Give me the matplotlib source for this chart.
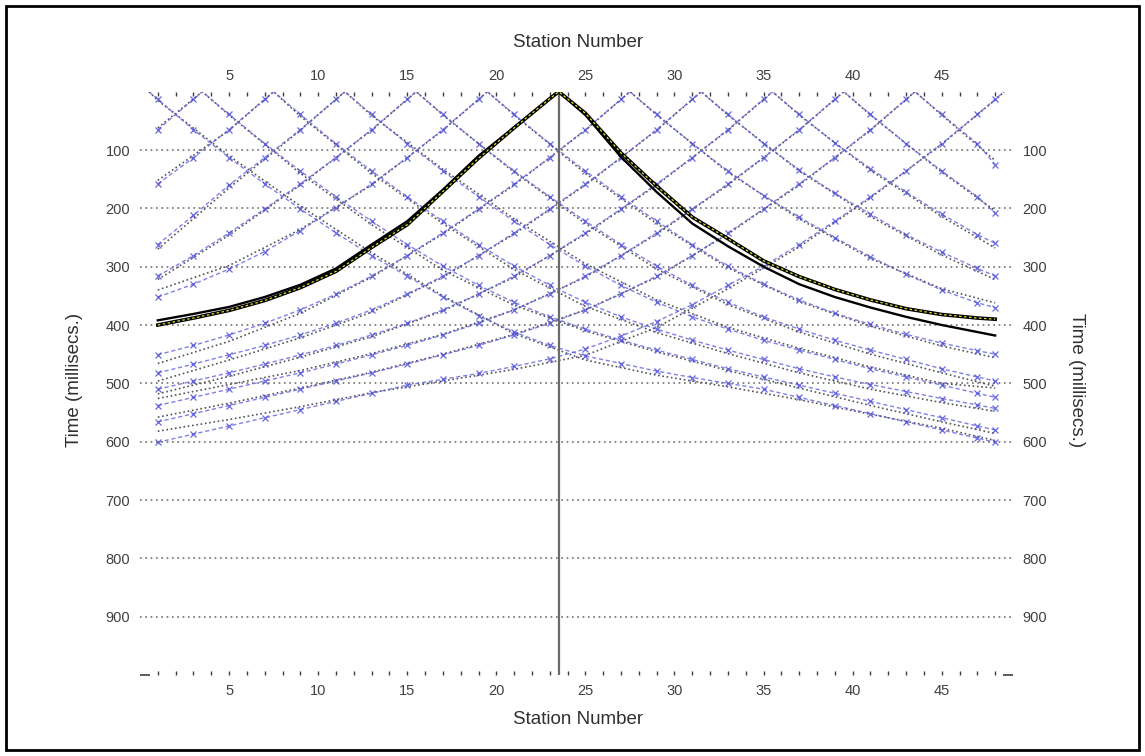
import matplotlib.pyplot as plt
from matplotlib.patches import Rectangle

plt.rcParams['font.family'] = ['Liberation Sans', 'DejaVu Sans']

# geophone stations that carry a first-break pick / a modelled time
pick_stations = [1, 3, 5, 7, 9, 11, 13, 15, 17, 19, 21, 23, 25,
                 27, 29, 31, 33, 35, 37, 39, 41, 43, 45, 47, 48]
model_stations = [1, 5, 9, 13, 17, 21, 25, 29, 33, 37, 41, 45, 48]

# shot positions (station units)
shot_points = [0.5, 3.5, 7.5, 11.5, 15.5, 19.5, 23.5, 27.5, 31.5, 35.5, 39.5, 43.5, 48.5]
active_shot = 23.5

# picked first arrivals, ms
picks_sp01 = [13, 65, 113, 158, 201, 242, 281, 316, 352, 384, 412, 435, 453, 466, 479, 490, 500, 510, 524, 538, 552, 566, 580, 594, 601]
picks_sp02 = [65, 13, 39, 89, 136, 180, 222, 262, 299, 332, 361, 386, 407, 426, 443, 459, 475, 489, 503, 517, 531, 545, 559, 573, 580]
picks_sp03 = [158, 113, 65, 13, 39, 89, 136, 180, 222, 262, 299, 332, 361, 386, 407, 426, 443, 459, 475, 489, 502, 514, 526, 537, 543]
picks_sp04 = [262, 212, 160, 113, 65, 13, 39, 89, 136, 180, 222, 262, 299, 332, 361, 386, 407, 426, 443, 459, 475, 489, 503, 517, 524]
picks_sp05 = [316, 281, 242, 201, 158, 113, 65, 13, 39, 89, 136, 180, 222, 262, 299, 332, 361, 386, 407, 426, 443, 459, 475, 489, 496]
picks_sp06 = [352, 330, 304, 274, 238, 199, 158, 113, 65, 13, 39, 89, 136, 180, 222, 262, 299, 330, 357, 380, 399, 416, 431, 444, 450]
picks_sp07 = [400, 388, 375, 358, 336, 308, 267, 228, 171, 114, 62, 12, 37, 105, 162, 215, 252, 290, 317, 339, 357, 372, 382, 388, 390]
picks_sp08 = [451, 435, 417, 397, 374, 347, 316, 281, 242, 201, 158, 113, 65, 13, 39, 89, 136, 178, 215, 250, 283, 313, 340, 362, 370]
picks_sp09 = [482, 467, 451, 435, 417, 397, 374, 347, 316, 281, 242, 201, 158, 113, 65, 13, 39, 89, 134, 174, 210, 245, 275, 303, 316]
picks_sp10 = [510, 496, 482, 467, 451, 435, 417, 397, 374, 347, 316, 281, 242, 201, 158, 113, 65, 13, 39, 88, 132, 172, 210, 245, 260]
picks_sp11 = [538, 524, 510, 496, 482, 467, 451, 435, 417, 397, 374, 347, 316, 281, 242, 201, 158, 113, 65, 13, 39, 89, 136, 180, 208]
picks_sp12 = [566, 552, 538, 524, 510, 496, 482, 467, 451, 435, 417, 397, 374, 347, 316, 281, 242, 201, 158, 113, 65, 13, 39, 89, 125]
picks_sp13 = [601, 587, 573, 559, 545, 531, 517, 503, 493, 483, 471, 458, 441, 419, 394, 365, 332, 299, 262, 222, 180, 136, 89, 39, 13]

# modelled travel times, ms (the active shot is modelled at every pick station)
model_sp01 = [15, 110, 196, 276, 350, 415, 460, 486, 506, 528, 553, 577, 598]
model_sp02 = [62, 40, 140, 228, 306, 366, 410, 446, 478, 508, 538, 566, 586]
model_sp03 = [152, 66, 42, 140, 226, 305, 368, 413, 449, 482, 510, 533, 548]
model_sp04 = [270, 165, 66, 41, 133, 218, 295, 357, 404, 440, 472, 500, 508]
model_sp05 = [322, 246, 160, 66, 40, 138, 226, 304, 365, 412, 450, 482, 505]
model_sp06 = [340, 298, 236, 160, 66, 40, 140, 226, 302, 360, 402, 436, 456]
model_sp07 = [392, 381, 369, 352, 331, 303, 262, 222, 168, 110, 61, 12, 40, 112, 172, 226, 265, 300, 330, 352, 370, 386, 400, 412, 418]
model_sp08 = [466, 428, 380, 318, 244, 160, 66, 40, 138, 218, 286, 338, 362]
model_sp09 = [496, 460, 422, 378, 318, 244, 160, 66, 40, 136, 214, 280, 322]
model_sp10 = [518, 488, 455, 420, 376, 318, 244, 160, 66, 40, 135, 214, 268]
model_sp11 = [526, 502, 478, 449, 416, 374, 318, 244, 160, 66, 40, 138, 204]
model_sp12 = [558, 534, 508, 481, 450, 416, 374, 318, 244, 160, 66, 40, 118]
model_sp13 = [582, 562, 540, 516, 496, 476, 452, 404, 338, 266, 182, 90, 14]

picks = [picks_sp01, picks_sp02, picks_sp03, picks_sp04, picks_sp05, picks_sp06, picks_sp07,
         picks_sp08, picks_sp09, picks_sp10, picks_sp11, picks_sp12, picks_sp13]
models = [model_sp01, model_sp02, model_sp03, model_sp04, model_sp05, model_sp06, model_sp07,
          model_sp08, model_sp09, model_sp10, model_sp11, model_sp12, model_sp13]

time_ticks = [100, 200, 300, 400, 500, 600, 700, 800, 900]
station_ticks = [5, 10, 15, 20, 25, 30, 35, 40, 45]


def with_source(src, stations, times):
    # add the zero-time point at the shot so both branches meet there
    pts = sorted(list(zip(stations, times)) + [(src, 0)])
    return [p[0] for p in pts], [p[1] for p in pts]


fig = plt.figure(figsize=(11.45, 7.56), dpi=100)
ax = fig.add_axes([0.12227, 0.10714, 0.76245, 0.77156])

for src, obs, mod in zip(shot_points, picks, models):
    stations = pick_stations if len(mod) == len(pick_stations) else model_stations
    mx, mt = with_source(src, stations, mod)
    px, pt = with_source(src, pick_stations, obs)
    if src == active_shot:
        ax.plot(mx, mt, color="black", lw=1.7, zorder=6)
        ax.plot(px, pt, color="black", lw=2.6, zorder=6)
        ax.plot(px, pt, color="#e2e22a", lw=0.9, ls=(0, (2, 2)), zorder=7)
        continue
    ax.plot(mx, mt, color="#555555", lw=1.2, ls=(0, (1, 1.6)), zorder=3)
    ax.plot(px, pt, color="#6060e0", lw=1.0, ls=(0, (3, 2)), alpha=0.8, zorder=4)
    ax.plot(pick_stations, obs, ls="none", marker="x", ms=4.5, mew=0.9,
            color="#5050d8", alpha=0.85, zorder=4)

# selected shot marker
ax.axvline(active_shot, color="#6a6a6a", lw=1.6, zorder=5)

ax.set_xlim(0, 49)
ax.set_ylim(1000, 0)

for t in time_ticks:
    ax.axhline(t, color="#707070", lw=1.2, ls=(0, (1, 2.2)), zorder=1)

ax.set_xticks(station_ticks)
ax.set_xticks(range(1, 49), minor=True)
ax.set_yticks(time_ticks)
ax.set_yticks([1000], minor=True)

ax.tick_params(axis="x", which="both", top=True, bottom=True, labeltop=True,
               labelbottom=True, direction="in", length=3, width=1,
               color="#404040", labelsize=10.5, labelcolor="#404040", pad=6.5)
ax.tick_params(axis="y", which="major", left=True, right=True, labelleft=True,
               labelright=True, length=0, labelsize=10.5, labelcolor="#404040",
               pad=7)
ax.tick_params(axis="y", which="minor", left=True, right=True, direction="in",
               length=7, width=1.2, color="#404040")

for sp in ax.spines.values():
    sp.set_visible(False)

fig.text(0.5048, 0.9444, "Station Number", ha="center", va="center",
         fontsize=13.5, color="#303030")
fig.text(0.5048, 0.0489, "Station Number", ha="center", va="center",
         fontsize=13.5, color="#303030")
fig.text(0.0655, 0.497, "Time (millisecs.)", ha="center", va="center",
         rotation=90, fontsize=13.5, color="#303030")
fig.text(0.9406, 0.497, "Time (millisecs.)", ha="center", va="center",
         rotation=270, fontsize=13.5, color="#303030")

# window frame
fig.patches.append(Rectangle((6 / 1145, 6 / 756), 1133 / 1145, 744 / 756,
                             transform=fig.transFigure, fill=False,
                             edgecolor="black", lw=2.0))

fig.savefig("out.png", dpi=100, facecolor="white")
